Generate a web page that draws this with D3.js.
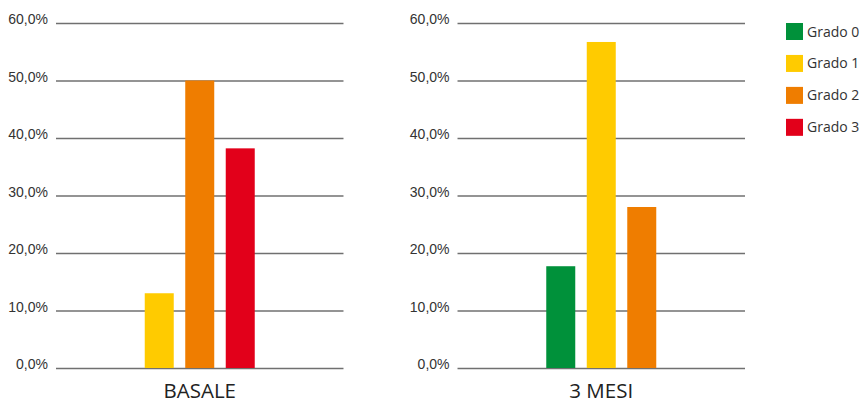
<!DOCTYPE html>
<html>
<head>
<meta charset="utf-8">
<script src="https://cdn.jsdelivr.net/npm/d3@7"></script>
<style>
  html, body { margin: 0; padding: 0; background: #fff; }
  svg { display: block; font-family: "Open Sans", sans-serif; }
</style>
</head>
<body>
<svg id="chart" width="861" height="404"></svg>
<script>
// ---- data ----
const grades = ["Grado 0", "Grado 1", "Grado 2", "Grado 3"];
const periods = ["BASALE", "3 MESI"];
const basaleValues = [0, 13.0, 50.0, 38.2];
const mesi3Values = [17.7, 56.7, 28.0, 0];
const gradeColors = ["#00913a", "#ffcb00", "#ef7d00", "#e2001a"];
const tickValues = [0, 10, 20, 30, 40, 50, 60];
const tickLabels = ["0,0%", "10,0%", "20,0%", "30,0%", "40,0%", "50,0%", "60,0%"];

const seriesByPeriod = { "BASALE": basaleValues, "3 MESI": mesi3Values };

const svg = d3.select("#chart");

const y = d3.scaleLinear().domain([0, 60]).range([368, 23]);
const xPanel = d3.scaleBand().domain(periods).range([56, 745]).paddingInner(0.284);
const color = d3.scaleOrdinal().domain(grades).range(gradeColors);

periods.forEach(p => {
  const x0 = xPanel(p);
  const w = xPanel.bandwidth();
  const g = svg.append("g").attr("transform", `translate(${x0},0)`);

  // gridlines + labels via axis
  const axis = d3.axisLeft(y)
    .tickValues(tickValues)
    .tickSize(-w)
    .tickPadding(8)
    .tickFormat((d, i) => tickLabels[i]);
  const ag = g.append("g").call(axis);
  ag.select(".domain").remove();
  ag.selectAll(".tick line").attr("stroke", "#707070").attr("stroke-width", 1.6);
  ag.selectAll(".tick text")
    .attr("fill", "#333")
    .attr("font-size", 14)
    .attr("dy", "0.05em");

  // bars
  const vals = seriesByPeriod[p];
  const present = grades.filter((gname, i) => vals[i] > 0);
  const center = w / 2;
  const xBar = d3.scaleBand().domain(present)
    .range([center - 55, center + 55])
    .paddingInner(0.284).paddingOuter(0);
  g.selectAll("rect.bar")
    .data(present.map(gname => ({ g: gname, v: vals[grades.indexOf(gname)] })))
    .join("rect")
    .attr("class", "bar")
    .attr("x", d => xBar(d.g))
    .attr("width", xBar.bandwidth())
    .attr("y", d => y(d.v))
    .attr("height", d => y(0) - y(d.v))
    .attr("fill", d => color(d.g));

  // category label
  g.append("text")
    .attr("x", center)
    .attr("y", 397.5)
    .attr("text-anchor", "middle")
    .attr("font-size", 20.5)
    .attr("fill", "#222")
    .text(p);
});

// legend
const legendY = d3.scaleBand().domain(grades).range([23, 138]).paddingInner(0.4);
const lg = svg.append("g").attr("transform", "translate(786,0)");
const items = lg.selectAll("g.item").data(grades).join("g")
  .attr("class", "item")
  .attr("transform", d => `translate(0,${legendY(d)})`);
items.append("rect")
  .attr("width", 17).attr("height", 17)
  .attr("fill", d => color(d));
items.append("text")
  .attr("x", 21).attr("y", 13.5)
  .attr("font-size", 14)
  .attr("fill", "#333")
  .text(d => d);
</script>
</body>
</html>
